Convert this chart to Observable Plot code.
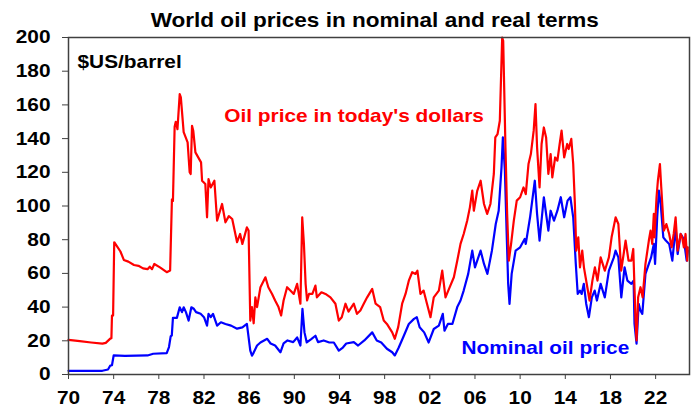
<!DOCTYPE html>
<html>
<head>
<meta charset="utf-8">
<script src="https://cdn.jsdelivr.net/npm/d3@7"></script>
<script src="https://cdn.jsdelivr.net/npm/@observablehq/plot@0.6"></script>
<style>
  html, body { margin: 0; padding: 0; background: #fff; }
  #title {
    width: 692px; height: 30px; box-sizing: border-box;
    padding-top: 10px; padding-left: 57px;
    font: bold 20.5px/20px "Liberation Sans", Arial, sans-serif;
    text-align: center; color: #000; white-space: nowrap;
  }
  #title span { display: inline-block; transform: scaleX(1.1); transform-origin: 50% 50%; }
  #chart svg { display: block; }
</style>
</head>
<body>
<div id="title"><span>World oil prices in nominal and real terms</span></div>
<div id="chart"></div>
<script>
// Oil price in today's dollars (real)
const realYears = [
  1970.0, 1971.0, 1972.0, 1973.0, 1973.3, 1973.7, 1973.8, 1973.85, 1973.95, 1974.05,
  1974.3, 1974.6, 1974.9, 1975.3, 1975.8, 1976.2, 1976.6, 1977.0, 1977.2, 1977.4,
  1977.6, 1978.1, 1978.7, 1979.0, 1979.16, 1979.25, 1979.4, 1979.5, 1979.65, 1979.85,
  1979.95, 1980.2, 1980.55, 1980.73, 1980.82, 1980.94, 1981.05, 1981.24, 1981.74, 1981.83,
  1982.12, 1982.27, 1982.4, 1982.6, 1982.92, 1983.16, 1983.6, 1983.9, 1984.2, 1984.5,
  1984.93, 1985.2, 1985.4, 1985.8, 1985.95, 1986.1, 1986.25, 1986.4, 1986.55, 1986.7,
  1987.0, 1987.44, 1987.7, 1988.03, 1988.3, 1988.6, 1988.83, 1989.05, 1989.36, 1989.65,
  1989.95, 1990.25, 1990.54, 1990.7, 1990.85, 1991.0, 1991.13, 1991.3, 1991.6, 1991.87,
  1992.0, 1992.4, 1992.76, 1993.2, 1993.64, 1993.94, 1994.2, 1994.53, 1994.8, 1995.27,
  1995.55, 1995.85, 1996.15, 1996.45, 1996.9, 1997.2, 1997.6, 1997.92, 1998.2, 1998.67,
  1998.9, 1999.2, 1999.55, 1999.85, 2000.14, 2000.44, 2000.73, 2000.9, 2001.17, 2001.45,
  2001.75, 2002.06, 2002.35, 2002.8, 2003.1, 2003.39, 2003.7, 2004.13, 2004.43, 2004.72,
  2005.0, 2005.31, 2005.55, 2005.76, 2005.9, 2006.2, 2006.5, 2006.8, 2007.08, 2007.37,
  2007.67, 2007.8, 2008.0, 2008.2, 2008.41, 2008.5, 2008.7, 2008.85, 2009.0, 2009.2,
  2009.44, 2009.7, 2010.0, 2010.3, 2010.5, 2010.74, 2010.95, 2011.2, 2011.36, 2011.5,
  2011.72, 2011.9, 2012.1, 2012.3, 2012.5, 2012.7, 2012.85, 2013.1, 2013.3, 2013.5,
  2013.67, 2013.9, 2014.17, 2014.3, 2014.53, 2014.7, 2014.85, 2014.97, 2015.15, 2015.3,
  2015.5, 2015.65, 2015.95, 2016.15, 2016.4, 2016.62, 2016.85, 2017.13, 2017.5, 2017.86,
  2018.1, 2018.46, 2018.7, 2018.95, 2019.2, 2019.34, 2019.6, 2019.85, 2020.02, 2020.22,
  2020.31, 2020.45, 2020.66, 2020.85, 2021.1, 2021.4, 2021.55, 2021.7, 2021.84, 2021.9,
  2022.08, 2022.2, 2022.38, 2022.5, 2022.73, 2022.95, 2023.2, 2023.42, 2023.6, 2023.77,
  2023.95, 2024.22, 2024.35, 2024.5, 2024.65, 2024.8, 2024.85
];
const realPrices = [
  20.5, 19.8, 19.0, 18.3, 18.8, 21.3, 21.5, 35, 35, 78.5,
  76, 73, 68, 67, 65, 64.5, 63, 62.5, 64, 62.5,
  65.6, 63.6, 60.7, 61.7, 104, 103, 147, 150, 145.6, 166.4,
  164.5, 143.8, 137.8, 120, 119, 147.6, 144.7, 131.8, 125.9, 115,
  113, 93.3, 116, 111, 115, 91.3, 101.2, 90.3, 94, 92.3,
  78.5, 83.4, 77.5, 87.3, 85.4, 32, 40, 30.4, 45.8, 40,
  51.8, 57.7, 51.8, 47.8, 43.9, 40, 35, 43.9, 51.8, 49.9,
  47.8, 53.8, 42, 93.3, 77.5, 53.8, 43.9, 47.8, 47.8, 52.8,
  45.8, 48.8, 47.8, 45.8, 42, 32, 34, 42, 37.3, 42,
  36, 38, 42, 45.8, 50.8, 42, 40, 32, 30, 25,
  21.2, 28.1, 42, 47.8, 55.7, 60.7, 59.7, 61.6, 47.8, 49.8,
  42, 34, 45.8, 49.8, 61.6, 45.8, 50.8, 57.7, 67.5, 77.5,
  83.4, 91.3, 99.2, 109.1, 97.2, 109, 115, 101.2, 95.3, 101.2,
  119, 140.7, 142.7, 150.6, 200, 198, 134.8, 95.3, 67.6, 77.5,
  91.3, 103.2, 105.2, 111, 107, 124.9, 130.8, 144.7, 160.5, 134.8,
  111, 136.8, 146.6, 140.7, 119, 130.8, 117, 128.8, 126.9, 136.8,
  144.7, 128.8, 136.8, 133.8, 139.8, 125, 101.2, 73.5, 81.4, 63.6,
  73.5, 63.6, 51.8, 43.9, 55.7, 63.6, 55.7, 69.5, 61.6, 69.5,
  81.4, 93.3, 89.3, 61.6, 73, 79.5, 67.6, 67.6, 74.5, 32,
  20.2, 45.8, 51.8, 45.8, 65.6, 79.5, 85.4, 77.5, 95.3, 81.4,
  105.2, 115, 124.9, 111, 85.4, 89.3, 83.4, 75.5, 83.4, 93.3,
  73.5, 83.4, 81.4, 75.5, 83.4, 67.6, 75.5
];

// Nominal oil price
const nominalYears = [
  1970.0, 1973.0, 1973.5, 1973.7, 1973.85, 1974.0, 1975.0, 1976.0, 1977.0, 1977.5,
  1978.7, 1978.9, 1979.05, 1979.15, 1979.25, 1979.6, 1979.85, 1980.05, 1980.2, 1980.4,
  1980.64, 1980.88, 1981.1, 1981.3, 1981.7, 1982.0, 1982.27, 1982.4, 1982.6, 1982.8,
  1983.16, 1983.5, 1983.9, 1984.4, 1984.93, 1985.4, 1985.8, 1986.1, 1986.25, 1986.4,
  1986.7, 1987.0, 1987.6, 1987.9, 1988.3, 1988.77, 1989.05, 1989.4, 1989.9, 1990.25,
  1990.54, 1990.72, 1990.9, 1991.1, 1991.5, 1991.87, 1992.1, 1992.6, 1993.1, 1993.5,
  1993.94, 1994.3, 1994.6, 1995.27, 1995.65, 1996.2, 1996.9, 1997.3, 1997.7, 1998.2,
  1998.67, 1998.9, 1999.25, 1999.7, 2000.14, 2000.6, 2000.85, 2001.1, 2001.5, 2001.9,
  2002.35, 2002.8, 2003.15, 2003.3, 2003.6, 2004.0, 2004.43, 2004.72, 2005.0, 2005.4,
  2005.76, 2006.0, 2006.5, 2006.8, 2007.1, 2007.5, 2007.84, 2008.1, 2008.35, 2008.47,
  2008.65, 2008.8, 2008.94, 2009.06, 2009.25, 2009.6, 2010.0, 2010.4, 2010.5, 2010.88,
  2011.3, 2011.5, 2011.72, 2012.1, 2012.5, 2012.7, 2013.0, 2013.3, 2013.6, 2013.9,
  2014.2, 2014.45, 2014.7, 2014.93, 2015.1, 2015.3, 2015.45, 2015.64, 2015.85, 2016.09,
  2016.35, 2016.6, 2016.8, 2017.13, 2017.5, 2017.86, 2018.3, 2018.45, 2018.7, 2018.96,
  2019.25, 2019.5, 2019.85, 2020.05, 2020.13, 2020.31, 2020.5, 2020.65, 2020.82, 2021.1,
  2021.4, 2021.6, 2021.84, 2021.95, 2022.14, 2022.29, 2022.45, 2022.68, 2022.9, 2023.2,
  2023.48, 2023.77, 2023.95, 2024.22, 2024.4, 2024.55, 2024.75, 2024.85
];
const nominalPrices = [
  2.2, 2.2, 3, 5.3, 5.5, 11.3, 11, 11.2, 11.3, 12.3,
  12.7, 16.3, 22.6, 23.2, 33.6, 33.6, 39.9, 37, 39.9, 37,
  32, 39.9, 39, 37, 36, 34, 29, 36, 34, 36,
  29, 31, 30, 29, 27.2, 28, 30, 14.2, 11.2, 13,
  17.2, 19, 21.2, 18.4, 17.2, 13.2, 18.4, 20.2, 19.2, 22,
  17.2, 39, 25, 19, 21, 23, 19.2, 20.2, 19, 19,
  14.2, 16, 18.4, 19.2, 17.2, 20.2, 25, 20.2, 19, 15.3,
  13.2, 11.3, 16, 23, 30, 33, 34, 28, 25, 19,
  27, 29, 36, 26, 30, 30, 40, 43.9, 49.8, 59.7,
  73.5, 63.6, 73.5, 65.6, 59.7, 73.5, 89.3, 97.2, 122.9, 140.7,
  121, 85.4, 53.8, 41.9, 59.7, 73.5, 75.5, 80.4, 77.5, 93.3,
  115, 95.3, 79.5, 105.2, 85.4, 97.2, 91.3, 97.2, 105.2, 93.3,
  103.2, 105.2, 93.3, 65.6, 47.8, 49.8, 47.8, 53.8, 42, 34,
  45.8, 49.8, 43.9, 53.8, 45.8, 61.6, 69.5, 73.5, 69.5, 45.8,
  63.6, 55.7, 53.8, 55.7, 30, 18.3, 42, 38, 36, 59.7,
  65.6, 69.5, 77.5, 65.6, 93.3, 109.1, 101.2, 81.4, 79.5, 77.5,
  67.6, 87.3, 71.5, 83.4, 81.4, 77.5, 67.6, 73.5
];

// Axis ticks
const xTicks = [1970, 1974, 1978, 1982, 1986, 1990, 1994, 1998, 2002, 2006, 2010, 2014, 2018, 2022];
const xTickLabels = ["70", "74", "78", "82", "86", "90", "94", "98", "02", "06", "10", "14", "18", "22"];
const yTicks = [0, 20, 40, 60, 80, 100, 120, 140, 160, 180, 200];

// Annotations
const labelTexts = ["$US/barrel", "Oil price in today's dollars", "Nominal oil price"];
const labelX = [1970.8, 1983.8, 2004.8];
const labelY = [185.2, 153.6, 15.6];
const labelColors = ["#000000", "#FF0000", "#0000FF"];

const real = realYears.map((t, i) => ({t, v: realPrices[i]}));
const nominal = nominalYears.map((t, i) => ({t, v: nominalPrices[i]}));
const labels = labelTexts.map((text, i) => ({text, x: labelX[i], y: labelY[i], color: labelColors[i]}));

const FS = 18.6;      // glyph height of the reference text
const STRETCH = 1.12; // reference text is drawn wider than tall

const chart = Plot.plot({
  width: 692,
  height: 378,
  marginLeft: 68,
  marginRight: 3,
  marginTop: 7,
  marginBottom: 34,
  style: {
    fontFamily: "'Liberation Sans', Arial, sans-serif",
    fontSize: FS + "px",
    fontWeight: "bold",
    color: "#000",
    background: "#fff",
    overflow: "visible"
  },
  x: {domain: [1970, 2025]},
  y: {domain: [0, 200]},
  marks: [
    Plot.axisX({ticks: xTicks, tickFormat: d => xTickLabels[xTicks.indexOf(d)], tickSize: 5, tickPadding: 11, label: null, stroke: "#404040", fontSize: FS}),
    Plot.axisY({ticks: yTicks, tickSize: 6, tickPadding: 12, label: null, stroke: "#404040", fontSize: FS}),
    Plot.line(nominal, {x: "t", y: "v", stroke: "#0000FF", strokeWidth: 2.2}),
    Plot.line(real, {x: "t", y: "v", stroke: "#FF0000", strokeWidth: 2.2}),
    Plot.frame({stroke: "#404040", strokeWidth: 1.5}),
    Plot.text(labels, {x: "x", y: "y", text: "text", fill: "color", textAnchor: "start", fontSize: FS, fontWeight: "bold"})
  ]
});
document.getElementById("chart").appendChild(chart);

// widen the glyphs horizontally to match the reference's stretched lettering
chart.querySelectorAll("text").forEach(t => {
  const len = t.getComputedTextLength();
  if (len > 0) {
    t.setAttribute("textLength", (len * STRETCH).toFixed(2));
    t.setAttribute("lengthAdjust", "spacingAndGlyphs");
  }
});
</script>
</body>
</html>
